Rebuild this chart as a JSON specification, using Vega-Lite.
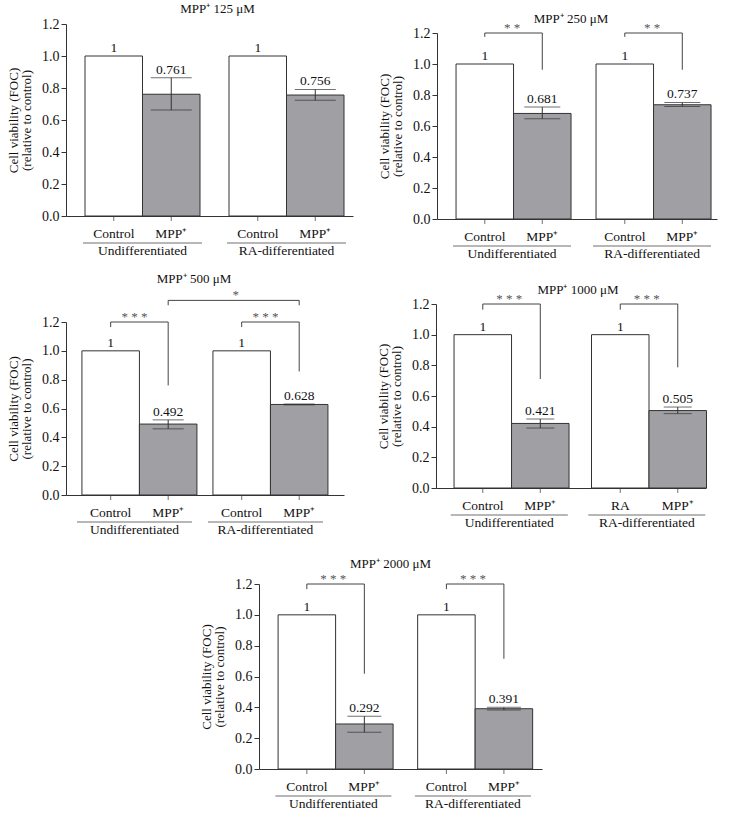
{
"$schema": "https://vega.github.io/schema/vega-lite/v6.json",
"padding": {"left": 7, "top": 3, "right": 5, "bottom": 0},
"background": "white",
"config": {
 "font": "Liberation Serif",
 "view": {"stroke": null},
 "axis": {"labelFontSize": 14, "titleFontSize": 13, "titleFontWeight": "normal", "labelColor": "#111", "titleColor": "#111", "domainColor": "#333", "tickColor": "#333", "grid": false},
 "axisY": {"tickSize": 5, "labelPadding": 2, "titlePadding": 8, "titleLineHeight": 13, "labelOverlap": false},
 "title": {"fontSize": 13, "fontWeight": "normal", "color": "#111", "offset": 4, "frame": "group", "anchor": "middle"},
 "text": {"fontSize": 13, "color": "#111"}
},
"datasets": {
 "bars": [
  {"p":"125","g":"Undifferentiated","t":"Control","v":1,"lo":1,"hi":1,"xl":"Control"},
  {"p":"125","g":"Undifferentiated","t":"MPP","v":0.761,"lo":0.662,"hi":0.864,"xl":"MPP⁺"},
  {"p":"125","g":"RA-differentiated","t":"Control","v":1,"lo":1,"hi":1,"xl":"Control"},
  {"p":"125","g":"RA-differentiated","t":"MPP","v":0.756,"lo":0.724,"hi":0.791,"xl":"MPP⁺"},
  {"p":"250","g":"Undifferentiated","t":"Control","v":1,"lo":1,"hi":1,"xl":"Control"},
  {"p":"250","g":"Undifferentiated","t":"MPP","v":0.681,"lo":0.647,"hi":0.722,"xl":"MPP⁺"},
  {"p":"250","g":"RA-differentiated","t":"Control","v":1,"lo":1,"hi":1,"xl":"Control"},
  {"p":"250","g":"RA-differentiated","t":"MPP","v":0.737,"lo":0.726,"hi":0.752,"xl":"MPP⁺"},
  {"p":"500","g":"Undifferentiated","t":"Control","v":1,"lo":1,"hi":1,"xl":"Control"},
  {"p":"500","g":"Undifferentiated","t":"MPP","v":0.492,"lo":0.459,"hi":0.521,"xl":"MPP⁺"},
  {"p":"500","g":"RA-differentiated","t":"Control","v":1,"lo":1,"hi":1,"xl":"Control"},
  {"p":"500","g":"RA-differentiated","t":"MPP","v":0.628,"lo":0.625,"hi":0.631,"xl":"MPP⁺"},
  {"p":"1000","g":"Undifferentiated","t":"Control","v":1,"lo":1,"hi":1,"xl":"Control"},
  {"p":"1000","g":"Undifferentiated","t":"MPP","v":0.421,"lo":0.391,"hi":0.45,"xl":"MPP⁺"},
  {"p":"1000","g":"RA-differentiated","t":"Control","v":1,"lo":1,"hi":1,"xl":"RA"},
  {"p":"1000","g":"RA-differentiated","t":"MPP","v":0.505,"lo":0.485,"hi":0.528,"xl":"MPP⁺"},
  {"p":"2000","g":"Undifferentiated","t":"Control","v":1,"lo":1,"hi":1,"xl":"Control"},
  {"p":"2000","g":"Undifferentiated","t":"MPP","v":0.292,"lo":0.238,"hi":0.342,"xl":"MPP⁺"},
  {"p":"2000","g":"RA-differentiated","t":"Control","v":1,"lo":1,"hi":1,"xl":"Control"},
  {"p":"2000","g":"RA-differentiated","t":"MPP","v":0.391,"lo":0.382,"hi":0.4,"xl":"MPP⁺"}
 ],
 "br": [
  {"p":"250","b":"U","g":"Undifferentiated","t":"Control","y":1.175,"o":1},
  {"p":"250","b":"U","g":"Undifferentiated","t":"Control","y":1.2,"o":2},
  {"p":"250","b":"U","g":"Undifferentiated","t":"MPP","y":1.2,"o":3},
  {"p":"250","b":"U","g":"Undifferentiated","t":"MPP","y":0.963,"o":4},
  {"p":"250","b":"R","g":"RA-differentiated","t":"Control","y":1.175,"o":1},
  {"p":"250","b":"R","g":"RA-differentiated","t":"Control","y":1.2,"o":2},
  {"p":"250","b":"R","g":"RA-differentiated","t":"MPP","y":1.2,"o":3},
  {"p":"250","b":"R","g":"RA-differentiated","t":"MPP","y":0.963,"o":4},
  {"p":"500","b":"U","g":"Undifferentiated","t":"Control","y":1.165,"o":1},
  {"p":"500","b":"U","g":"Undifferentiated","t":"Control","y":1.2,"o":2},
  {"p":"500","b":"U","g":"Undifferentiated","t":"MPP","y":1.2,"o":3},
  {"p":"500","b":"U","g":"Undifferentiated","t":"MPP","y":0.76,"o":4},
  {"p":"500","b":"R","g":"RA-differentiated","t":"Control","y":1.165,"o":1},
  {"p":"500","b":"R","g":"RA-differentiated","t":"Control","y":1.2,"o":2},
  {"p":"500","b":"R","g":"RA-differentiated","t":"MPP","y":1.2,"o":3},
  {"p":"500","b":"R","g":"RA-differentiated","t":"MPP","y":0.857,"o":4},
  {"p":"500","b":"X","g":"Undifferentiated","t":"MPP","y":1.316,"o":1},
  {"p":"500","b":"X","g":"Undifferentiated","t":"MPP","y":1.35,"o":2},
  {"p":"500","b":"X","g":"RA-differentiated","t":"MPP","y":1.35,"o":3},
  {"p":"500","b":"X","g":"RA-differentiated","t":"MPP","y":1.316,"o":4},
  {"p":"1000","b":"U","g":"Undifferentiated","t":"Control","y":1.163,"o":1},
  {"p":"1000","b":"U","g":"Undifferentiated","t":"Control","y":1.2,"o":2},
  {"p":"1000","b":"U","g":"Undifferentiated","t":"MPP","y":1.2,"o":3},
  {"p":"1000","b":"U","g":"Undifferentiated","t":"MPP","y":0.711,"o":4},
  {"p":"1000","b":"R","g":"RA-differentiated","t":"Control","y":1.163,"o":1},
  {"p":"1000","b":"R","g":"RA-differentiated","t":"Control","y":1.2,"o":2},
  {"p":"1000","b":"R","g":"RA-differentiated","t":"MPP","y":1.2,"o":3},
  {"p":"1000","b":"R","g":"RA-differentiated","t":"MPP","y":0.787,"o":4},
  {"p":"2000","b":"U","g":"Undifferentiated","t":"Control","y":1.167,"o":1},
  {"p":"2000","b":"U","g":"Undifferentiated","t":"Control","y":1.2,"o":2},
  {"p":"2000","b":"U","g":"Undifferentiated","t":"MPP","y":1.2,"o":3},
  {"p":"2000","b":"U","g":"Undifferentiated","t":"MPP","y":0.618,"o":4},
  {"p":"2000","b":"R","g":"RA-differentiated","t":"Control","y":1.167,"o":1},
  {"p":"2000","b":"R","g":"RA-differentiated","t":"Control","y":1.2,"o":2},
  {"p":"2000","b":"R","g":"RA-differentiated","t":"MPP","y":1.2,"o":3},
  {"p":"2000","b":"R","g":"RA-differentiated","t":"MPP","y":0.715,"o":4}
 ],
 "st": [
  {"p":"250","k":"in","g":"Undifferentiated","t":"Control","y":1.2,"s":"* *"},
  {"p":"250","k":"in","g":"RA-differentiated","t":"Control","y":1.2,"s":"* *"},
  {"p":"500","k":"in","g":"Undifferentiated","t":"Control","y":1.2,"s":"* * *"},
  {"p":"500","k":"in","g":"RA-differentiated","t":"Control","y":1.2,"s":"* * *"},
  {"p":"500","k":"x","g":"RA-differentiated","t":"Control","y":1.35,"s":"*"},
  {"p":"1000","k":"in","g":"Undifferentiated","t":"Control","y":1.2,"s":"* * *"},
  {"p":"1000","k":"in","g":"RA-differentiated","t":"Control","y":1.2,"s":"* * *"},
  {"p":"2000","k":"in","g":"Undifferentiated","t":"Control","y":1.2,"s":"* * *"},
  {"p":"2000","k":"in","g":"RA-differentiated","t":"Control","y":1.2,"s":"* * *"}
 ]
},
"vconcat": [
 {"vconcat": [
  {"hconcat": [
   {"width": 287, "height": 192,
    "title": {"text": "MPP⁺ 125 μM", "dx": 8, "offset": 1, "fontWeight": "normal"},
    "encoding": {"x": {"field": "g", "type": "nominal", "scale": {"domain": ["Undifferentiated","RA-differentiated"], "paddingInner": 0.2014, "paddingOuter": 0.0972, "align": 0.679}, "axis": {"labels": false, "ticks": false, "title": null}}},
    "layer": [
     {"data": {"name": "bars"}, "transform": [{"filter": "datum.p=='125'"}], "mark": {"type": "bar", "stroke": "#333", "strokeWidth": 1},
      "encoding": {"xOffset": {"field": "t", "type": "nominal", "scale": {"domain": ["Control","MPP"]}},
       "y": {"field": "v", "type": "quantitative", "scale": {"domain": [0,1.2], "nice": false, "range": [192, 0]}, "axis": {"values": [0,0.2,0.4,0.6,0.8,1,1.2], "format": ".1f", "labelOverlap": false, "labelFontSize": 14, "title": ["Cell viability (FOC)","(relative to control)"]}},
       "fill": {"field": "t", "type": "nominal", "scale": {"domain": ["Control","MPP"], "range": ["#ffffff","#a0a0a4"]}, "legend": null}}},
     {"data": {"name": "bars"}, "transform": [{"filter": "datum.p=='125' && datum.t=='MPP'"}], "mark": {"type": "rule", "color": "#333"},
      "encoding": {"xOffset": {"field": "t", "type": "nominal"}, "y": {"field": "lo", "type": "quantitative", "axis": {"values": [0,0.2,0.4,0.6,0.8,1,1.2], "format": ".1f", "labelOverlap": false, "labelFontSize": 14, "title": ["Cell viability (FOC)","(relative to control)"]}}, "y2": {"field": "hi"}}},
     {"data": {"name": "bars"}, "transform": [{"filter": "datum.p=='125' && datum.t=='MPP'"}], "mark": {"type": "tick", "orient": "horizontal", "size": 41, "thickness": 1, "color": "#333"},
      "encoding": {"xOffset": {"field": "t", "type": "nominal"}, "y": {"field": "lo", "type": "quantitative", "axis": {"values": [0,0.2,0.4,0.6,0.8,1,1.2], "format": ".1f", "labelOverlap": false, "labelFontSize": 14, "title": ["Cell viability (FOC)","(relative to control)"]}}}},
     {"data": {"name": "bars"}, "transform": [{"filter": "datum.p=='125' && datum.t=='MPP'"}], "mark": {"type": "tick", "orient": "horizontal", "size": 41, "thickness": 1, "color": "#333"},
      "encoding": {"xOffset": {"field": "t", "type": "nominal"}, "y": {"field": "hi", "type": "quantitative", "axis": {"values": [0,0.2,0.4,0.6,0.8,1,1.2], "format": ".1f", "labelOverlap": false, "labelFontSize": 14, "title": ["Cell viability (FOC)","(relative to control)"]}}}},
     {"data": {"name": "bars"}, "transform": [{"filter": "datum.p=='125'"}], "mark": {"type": "text", "baseline": "bottom", "dy": -1, "color": "#111", "fontSize": 13.5},
      "encoding": {"xOffset": {"field": "t", "type": "nominal"}, "y": {"field": "hi", "type": "quantitative", "axis": {"values": [0,0.2,0.4,0.6,0.8,1,1.2], "format": ".1f", "labelOverlap": false, "labelFontSize": 14, "title": ["Cell viability (FOC)","(relative to control)"]}}, "text": {"field": "v", "type": "nominal"}}},
     {"data": {"name": "bars"}, "transform": [{"filter": "datum.p=='125'"}], "mark": {"type": "tick", "orient": "vertical", "size": 5, "thickness": 1, "yOffset": 2.5, "color": "#333"},
      "encoding": {"xOffset": {"field": "t", "type": "nominal"}, "y": {"datum": 0, "type": "quantitative", "axis": {"values": [0,0.2,0.4,0.6,0.8,1,1.2], "format": ".1f", "labelOverlap": false, "labelFontSize": 14, "title": ["Cell viability (FOC)","(relative to control)"]}}}},
     {"data": {"name": "bars"}, "transform": [{"filter": "datum.p=='125'"}], "mark": {"type": "text", "baseline": "alphabetic", "dy": 22, "color": "#111", "fontSize": 13.5},
      "encoding": {"xOffset": {"field": "t", "type": "nominal"}, "y": {"datum": 0, "type": "quantitative", "axis": {"values": [0,0.2,0.4,0.6,0.8,1,1.2], "format": ".1f", "labelOverlap": false, "labelFontSize": 14, "title": ["Cell viability (FOC)","(relative to control)"]}}, "text": {"field": "xl", "type": "nominal"}}},
     {"data": {"name": "bars"}, "transform": [{"filter": "datum.p=='125' && datum.t=='Control'"}], "mark": {"type": "tick", "orient": "horizontal", "size": 119, "thickness": 1, "yOffset": 27, "color": "#333"},
      "encoding": {"y": {"datum": 0, "type": "quantitative", "axis": {"values": [0,0.2,0.4,0.6,0.8,1,1.2], "format": ".1f", "labelOverlap": false, "labelFontSize": 14, "title": ["Cell viability (FOC)","(relative to control)"]}}}},
     {"data": {"name": "bars"}, "transform": [{"filter": "datum.p=='125' && datum.t=='Control'"}], "mark": {"type": "text", "baseline": "alphabetic", "dy": 39, "color": "#111", "fontSize": 13.5},
      "encoding": {"y": {"datum": 0, "type": "quantitative", "axis": {"values": [0,0.2,0.4,0.6,0.8,1,1.2], "format": ".1f", "labelOverlap": false, "labelFontSize": 14, "title": ["Cell viability (FOC)","(relative to control)"]}}, "text": {"field": "g", "type": "nominal"}}}
    ]},
   {"width": 280, "height": 195,
    "title": {"text": "MPP⁺ 250 μM", "dx": -6, "offset": -4, "fontWeight": "normal"},
    "encoding": {"x": {"field": "g", "type": "nominal", "scale": {"domain": ["Undifferentiated","RA-differentiated"], "paddingInner": 0.2, "paddingOuter": 0.1, "align": 0.68}, "axis": {"labels": false, "ticks": false, "title": null}}},
    "layer": [
     {"data": {"name": "bars"}, "transform": [{"filter": "datum.p=='250'"}], "mark": {"type": "bar", "stroke": "#333", "strokeWidth": 1},
      "encoding": {"xOffset": {"field": "t", "type": "nominal", "scale": {"domain": ["Control","MPP"]}},
       "y": {"field": "v", "type": "quantitative", "scale": {"domain": [0,1.2], "nice": false, "range": [195, 9]}, "axis": {"values": [0,0.2,0.4,0.6,0.8,1,1.2], "format": ".1f", "labelOverlap": false, "labelFontSize": 14, "title": ["Cell viability (FOC)","(relative to control)"]}},
       "fill": {"field": "t", "type": "nominal", "scale": {"domain": ["Control","MPP"], "range": ["#ffffff","#a0a0a4"]}, "legend": null}}},
     {"data": {"name": "bars"}, "transform": [{"filter": "datum.p=='250' && datum.t=='MPP'"}], "mark": {"type": "rule", "color": "#333"},
      "encoding": {"xOffset": {"field": "t", "type": "nominal"}, "y": {"field": "lo", "type": "quantitative", "axis": {"values": [0,0.2,0.4,0.6,0.8,1,1.2], "format": ".1f", "labelOverlap": false, "labelFontSize": 14, "title": ["Cell viability (FOC)","(relative to control)"]}}, "y2": {"field": "hi"}}},
     {"data": {"name": "bars"}, "transform": [{"filter": "datum.p=='250' && datum.t=='MPP'"}], "mark": {"type": "tick", "orient": "horizontal", "size": 36, "thickness": 1, "color": "#333"},
      "encoding": {"xOffset": {"field": "t", "type": "nominal"}, "y": {"field": "lo", "type": "quantitative", "axis": {"values": [0,0.2,0.4,0.6,0.8,1,1.2], "format": ".1f", "labelOverlap": false, "labelFontSize": 14, "title": ["Cell viability (FOC)","(relative to control)"]}}}},
     {"data": {"name": "bars"}, "transform": [{"filter": "datum.p=='250' && datum.t=='MPP'"}], "mark": {"type": "tick", "orient": "horizontal", "size": 36, "thickness": 1, "color": "#333"},
      "encoding": {"xOffset": {"field": "t", "type": "nominal"}, "y": {"field": "hi", "type": "quantitative", "axis": {"values": [0,0.2,0.4,0.6,0.8,1,1.2], "format": ".1f", "labelOverlap": false, "labelFontSize": 14, "title": ["Cell viability (FOC)","(relative to control)"]}}}},
     {"data": {"name": "bars"}, "transform": [{"filter": "datum.p=='250'"}], "mark": {"type": "text", "baseline": "bottom", "dy": -1, "color": "#111", "fontSize": 13.5},
      "encoding": {"xOffset": {"field": "t", "type": "nominal"}, "y": {"field": "hi", "type": "quantitative", "axis": {"values": [0,0.2,0.4,0.6,0.8,1,1.2], "format": ".1f", "labelOverlap": false, "labelFontSize": 14, "title": ["Cell viability (FOC)","(relative to control)"]}}, "text": {"field": "v", "type": "nominal"}}},
     {"data": {"name": "bars"}, "transform": [{"filter": "datum.p=='250'"}], "mark": {"type": "tick", "orient": "vertical", "size": 5, "thickness": 1, "yOffset": 2.5, "color": "#333"},
      "encoding": {"xOffset": {"field": "t", "type": "nominal"}, "y": {"datum": 0, "type": "quantitative", "axis": {"values": [0,0.2,0.4,0.6,0.8,1,1.2], "format": ".1f", "labelOverlap": false, "labelFontSize": 14, "title": ["Cell viability (FOC)","(relative to control)"]}}}},
     {"data": {"name": "bars"}, "transform": [{"filter": "datum.p=='250'"}], "mark": {"type": "text", "baseline": "alphabetic", "dy": 22, "color": "#111", "fontSize": 13.5},
      "encoding": {"xOffset": {"field": "t", "type": "nominal"}, "y": {"datum": 0, "type": "quantitative", "axis": {"values": [0,0.2,0.4,0.6,0.8,1,1.2], "format": ".1f", "labelOverlap": false, "labelFontSize": 14, "title": ["Cell viability (FOC)","(relative to control)"]}}, "text": {"field": "xl", "type": "nominal"}}},
     {"data": {"name": "bars"}, "transform": [{"filter": "datum.p=='250' && datum.t=='Control'"}], "mark": {"type": "tick", "orient": "horizontal", "size": 118, "thickness": 1, "yOffset": 27, "color": "#333"},
      "encoding": {"y": {"datum": 0, "type": "quantitative", "axis": {"values": [0,0.2,0.4,0.6,0.8,1,1.2], "format": ".1f", "labelOverlap": false, "labelFontSize": 14, "title": ["Cell viability (FOC)","(relative to control)"]}}}},
     {"data": {"name": "bars"}, "transform": [{"filter": "datum.p=='250' && datum.t=='Control'"}], "mark": {"type": "text", "baseline": "alphabetic", "dy": 39, "color": "#111", "fontSize": 13.5},
      "encoding": {"y": {"datum": 0, "type": "quantitative", "axis": {"values": [0,0.2,0.4,0.6,0.8,1,1.2], "format": ".1f", "labelOverlap": false, "labelFontSize": 14, "title": ["Cell viability (FOC)","(relative to control)"]}}, "text": {"field": "g", "type": "nominal"}}},
     {"data": {"name": "br"}, "transform": [{"filter": "datum.p=='250'"}], "mark": {"type": "line", "color": "#444", "strokeWidth": 1},
      "encoding": {"xOffset": {"field": "t", "type": "nominal"}, "y": {"field": "y", "type": "quantitative", "axis": {"values": [0,0.2,0.4,0.6,0.8,1,1.2], "format": ".1f", "labelOverlap": false, "labelFontSize": 14, "title": ["Cell viability (FOC)","(relative to control)"]}}, "detail": {"field": "b", "type": "nominal"}, "order": {"field": "o", "type": "quantitative"}}},
     {"data": {"name": "st"}, "transform": [{"filter": "datum.p=='250' && datum.k=='in'"}], "mark": {"type": "text", "baseline": "alphabetic", "dy": -1, "color": "#555"},
      "encoding": {"y": {"field": "y", "type": "quantitative", "axis": {"values": [0,0.2,0.4,0.6,0.8,1,1.2], "format": ".1f", "labelOverlap": false, "labelFontSize": 14, "title": ["Cell viability (FOC)","(relative to control)"]}}, "text": {"field": "s", "type": "nominal"}}}
    ]}
  ], "spacing": 25},
  {"hconcat": [
   {"width": 278, "height": 191,
    "title": {"text": "MPP⁺ 500 μM", "dx": -11, "offset": 3, "fontWeight": "normal"},
    "encoding": {"x": {"field": "g", "type": "nominal", "scale": {"domain": ["Undifferentiated","RA-differentiated"], "paddingInner": 0.198, "paddingOuter": 0.16, "align": 0.38}, "axis": {"labels": false, "ticks": false, "title": null}}},
    "layer": [
     {"data": {"name": "bars"}, "transform": [{"filter": "datum.p=='500'"}], "mark": {"type": "bar", "stroke": "#333", "strokeWidth": 1},
      "encoding": {"xOffset": {"field": "t", "type": "nominal", "scale": {"domain": ["Control","MPP"]}},
       "y": {"field": "v", "type": "quantitative", "scale": {"domain": [0,1.2], "nice": false, "range": [191, 18]}, "axis": {"values": [0,0.2,0.4,0.6,0.8,1,1.2], "format": ".1f", "labelOverlap": false, "labelFontSize": 14, "title": ["Cell viability (FOC)","(relative to control)"]}},
       "fill": {"field": "t", "type": "nominal", "scale": {"domain": ["Control","MPP"], "range": ["#ffffff","#a0a0a4"]}, "legend": null}}},
     {"data": {"name": "bars"}, "transform": [{"filter": "datum.p=='500' && datum.t=='MPP'"}], "mark": {"type": "rule", "color": "#333"},
      "encoding": {"xOffset": {"field": "t", "type": "nominal"}, "y": {"field": "lo", "type": "quantitative", "axis": {"values": [0,0.2,0.4,0.6,0.8,1,1.2], "format": ".1f", "labelOverlap": false, "labelFontSize": 14, "title": ["Cell viability (FOC)","(relative to control)"]}}, "y2": {"field": "hi"}}},
     {"data": {"name": "bars"}, "transform": [{"filter": "datum.p=='500' && datum.t=='MPP'"}], "mark": {"type": "tick", "orient": "horizontal", "size": 31, "thickness": 1, "color": "#333"},
      "encoding": {"xOffset": {"field": "t", "type": "nominal"}, "y": {"field": "lo", "type": "quantitative", "axis": {"values": [0,0.2,0.4,0.6,0.8,1,1.2], "format": ".1f", "labelOverlap": false, "labelFontSize": 14, "title": ["Cell viability (FOC)","(relative to control)"]}}}},
     {"data": {"name": "bars"}, "transform": [{"filter": "datum.p=='500' && datum.t=='MPP'"}], "mark": {"type": "tick", "orient": "horizontal", "size": 31, "thickness": 1, "color": "#333"},
      "encoding": {"xOffset": {"field": "t", "type": "nominal"}, "y": {"field": "hi", "type": "quantitative", "axis": {"values": [0,0.2,0.4,0.6,0.8,1,1.2], "format": ".1f", "labelOverlap": false, "labelFontSize": 14, "title": ["Cell viability (FOC)","(relative to control)"]}}}},
     {"data": {"name": "bars"}, "transform": [{"filter": "datum.p=='500'"}], "mark": {"type": "text", "baseline": "bottom", "dy": -1, "color": "#111", "fontSize": 13.5},
      "encoding": {"xOffset": {"field": "t", "type": "nominal"}, "y": {"field": "hi", "type": "quantitative", "axis": {"values": [0,0.2,0.4,0.6,0.8,1,1.2], "format": ".1f", "labelOverlap": false, "labelFontSize": 14, "title": ["Cell viability (FOC)","(relative to control)"]}}, "text": {"field": "v", "type": "nominal"}}},
     {"data": {"name": "bars"}, "transform": [{"filter": "datum.p=='500'"}], "mark": {"type": "tick", "orient": "vertical", "size": 5, "thickness": 1, "yOffset": 2.5, "color": "#333"},
      "encoding": {"xOffset": {"field": "t", "type": "nominal"}, "y": {"datum": 0, "type": "quantitative", "axis": {"values": [0,0.2,0.4,0.6,0.8,1,1.2], "format": ".1f", "labelOverlap": false, "labelFontSize": 14, "title": ["Cell viability (FOC)","(relative to control)"]}}}},
     {"data": {"name": "bars"}, "transform": [{"filter": "datum.p=='500'"}], "mark": {"type": "text", "baseline": "alphabetic", "dy": 22, "color": "#111", "fontSize": 13.5},
      "encoding": {"xOffset": {"field": "t", "type": "nominal"}, "y": {"datum": 0, "type": "quantitative", "axis": {"values": [0,0.2,0.4,0.6,0.8,1,1.2], "format": ".1f", "labelOverlap": false, "labelFontSize": 14, "title": ["Cell viability (FOC)","(relative to control)"]}}, "text": {"field": "xl", "type": "nominal"}}},
     {"data": {"name": "bars"}, "transform": [{"filter": "datum.p=='500' && datum.t=='Control'"}], "mark": {"type": "tick", "orient": "horizontal", "size": 115, "thickness": 1, "yOffset": 27, "color": "#333"},
      "encoding": {"y": {"datum": 0, "type": "quantitative", "axis": {"values": [0,0.2,0.4,0.6,0.8,1,1.2], "format": ".1f", "labelOverlap": false, "labelFontSize": 14, "title": ["Cell viability (FOC)","(relative to control)"]}}}},
     {"data": {"name": "bars"}, "transform": [{"filter": "datum.p=='500' && datum.t=='Control'"}], "mark": {"type": "text", "baseline": "alphabetic", "dy": 39, "color": "#111", "fontSize": 13.5},
      "encoding": {"y": {"datum": 0, "type": "quantitative", "axis": {"values": [0,0.2,0.4,0.6,0.8,1,1.2], "format": ".1f", "labelOverlap": false, "labelFontSize": 14, "title": ["Cell viability (FOC)","(relative to control)"]}}, "text": {"field": "g", "type": "nominal"}}},
     {"data": {"name": "br"}, "transform": [{"filter": "datum.p=='500'"}], "mark": {"type": "line", "color": "#444", "strokeWidth": 1},
      "encoding": {"xOffset": {"field": "t", "type": "nominal"}, "y": {"field": "y", "type": "quantitative", "axis": {"values": [0,0.2,0.4,0.6,0.8,1,1.2], "format": ".1f", "labelOverlap": false, "labelFontSize": 14, "title": ["Cell viability (FOC)","(relative to control)"]}}, "detail": {"field": "b", "type": "nominal"}, "order": {"field": "o", "type": "quantitative"}}},
     {"data": {"name": "st"}, "transform": [{"filter": "datum.p=='500' && datum.k=='in'"}], "mark": {"type": "text", "baseline": "alphabetic", "dy": -1, "color": "#555"},
      "encoding": {"y": {"field": "y", "type": "quantitative", "axis": {"values": [0,0.2,0.4,0.6,0.8,1,1.2], "format": ".1f", "labelOverlap": false, "labelFontSize": 14, "title": ["Cell viability (FOC)","(relative to control)"]}}, "text": {"field": "s", "type": "nominal"}}},
     {"data": {"name": "st"}, "transform": [{"filter": "datum.p=='500' && datum.k=='x'"}], "mark": {"type": "text", "baseline": "alphabetic", "dy": -1, "dx": -6, "color": "#555"},
      "encoding": {"xOffset": {"field": "t", "type": "nominal"}, "y": {"field": "y", "type": "quantitative", "axis": {"values": [0,0.2,0.4,0.6,0.8,1,1.2], "format": ".1f", "labelOverlap": false, "labelFontSize": 14, "title": ["Cell viability (FOC)","(relative to control)"]}}, "text": {"field": "s", "type": "nominal"}}}
    ]},
   {"width": 270, "height": 184,
    "title": {"text": "MPP⁺ 1000 μM", "dx": 7, "offset": -4, "fontWeight": "normal"},
    "encoding": {"x": {"field": "g", "type": "nominal", "scale": {"domain": ["Undifferentiated","RA-differentiated"], "paddingInner": 0.196, "paddingOuter": 0.08, "align": 0.82}, "axis": {"labels": false, "ticks": false, "title": null}}},
    "layer": [
     {"data": {"name": "bars"}, "transform": [{"filter": "datum.p=='1000'"}], "mark": {"type": "bar", "stroke": "#333", "strokeWidth": 1},
      "encoding": {"xOffset": {"field": "t", "type": "nominal", "scale": {"domain": ["Control","MPP"]}},
       "y": {"field": "v", "type": "quantitative", "scale": {"domain": [0,1.2], "nice": false, "range": [184, 0]}, "axis": {"values": [0,0.2,0.4,0.6,0.8,1,1.2], "format": ".1f", "labelOverlap": false, "labelFontSize": 14, "title": ["Cell viability (FOC)","(relative to control)"]}},
       "fill": {"field": "t", "type": "nominal", "scale": {"domain": ["Control","MPP"], "range": ["#ffffff","#a0a0a4"]}, "legend": null}}},
     {"data": {"name": "bars"}, "transform": [{"filter": "datum.p=='1000' && datum.t=='MPP'"}], "mark": {"type": "rule", "color": "#333"},
      "encoding": {"xOffset": {"field": "t", "type": "nominal"}, "y": {"field": "lo", "type": "quantitative", "axis": {"values": [0,0.2,0.4,0.6,0.8,1,1.2], "format": ".1f", "labelOverlap": false, "labelFontSize": 14, "title": ["Cell viability (FOC)","(relative to control)"]}}, "y2": {"field": "hi"}}},
     {"data": {"name": "bars"}, "transform": [{"filter": "datum.p=='1000' && datum.t=='MPP'"}], "mark": {"type": "tick", "orient": "horizontal", "size": 28, "thickness": 1, "color": "#333"},
      "encoding": {"xOffset": {"field": "t", "type": "nominal"}, "y": {"field": "lo", "type": "quantitative", "axis": {"values": [0,0.2,0.4,0.6,0.8,1,1.2], "format": ".1f", "labelOverlap": false, "labelFontSize": 14, "title": ["Cell viability (FOC)","(relative to control)"]}}}},
     {"data": {"name": "bars"}, "transform": [{"filter": "datum.p=='1000' && datum.t=='MPP'"}], "mark": {"type": "tick", "orient": "horizontal", "size": 28, "thickness": 1, "color": "#333"},
      "encoding": {"xOffset": {"field": "t", "type": "nominal"}, "y": {"field": "hi", "type": "quantitative", "axis": {"values": [0,0.2,0.4,0.6,0.8,1,1.2], "format": ".1f", "labelOverlap": false, "labelFontSize": 14, "title": ["Cell viability (FOC)","(relative to control)"]}}}},
     {"data": {"name": "bars"}, "transform": [{"filter": "datum.p=='1000'"}], "mark": {"type": "text", "baseline": "bottom", "dy": -1, "color": "#111", "fontSize": 13.5},
      "encoding": {"xOffset": {"field": "t", "type": "nominal"}, "y": {"field": "hi", "type": "quantitative", "axis": {"values": [0,0.2,0.4,0.6,0.8,1,1.2], "format": ".1f", "labelOverlap": false, "labelFontSize": 14, "title": ["Cell viability (FOC)","(relative to control)"]}}, "text": {"field": "v", "type": "nominal"}}},
     {"data": {"name": "bars"}, "transform": [{"filter": "datum.p=='1000'"}], "mark": {"type": "tick", "orient": "vertical", "size": 5, "thickness": 1, "yOffset": 2.5, "color": "#333"},
      "encoding": {"xOffset": {"field": "t", "type": "nominal"}, "y": {"datum": 0, "type": "quantitative", "axis": {"values": [0,0.2,0.4,0.6,0.8,1,1.2], "format": ".1f", "labelOverlap": false, "labelFontSize": 14, "title": ["Cell viability (FOC)","(relative to control)"]}}}},
     {"data": {"name": "bars"}, "transform": [{"filter": "datum.p=='1000'"}], "mark": {"type": "text", "baseline": "alphabetic", "dy": 22, "color": "#111", "fontSize": 13.5},
      "encoding": {"xOffset": {"field": "t", "type": "nominal"}, "y": {"datum": 0, "type": "quantitative", "axis": {"values": [0,0.2,0.4,0.6,0.8,1,1.2], "format": ".1f", "labelOverlap": false, "labelFontSize": 14, "title": ["Cell viability (FOC)","(relative to control)"]}}, "text": {"field": "xl", "type": "nominal"}}},
     {"data": {"name": "bars"}, "transform": [{"filter": "datum.p=='1000' && datum.t=='Control'"}], "mark": {"type": "tick", "orient": "horizontal", "size": 117, "thickness": 1, "yOffset": 27, "color": "#333"},
      "encoding": {"y": {"datum": 0, "type": "quantitative", "axis": {"values": [0,0.2,0.4,0.6,0.8,1,1.2], "format": ".1f", "labelOverlap": false, "labelFontSize": 14, "title": ["Cell viability (FOC)","(relative to control)"]}}}},
     {"data": {"name": "bars"}, "transform": [{"filter": "datum.p=='1000' && datum.t=='Control'"}], "mark": {"type": "text", "baseline": "alphabetic", "dy": 39, "color": "#111", "fontSize": 13.5},
      "encoding": {"y": {"datum": 0, "type": "quantitative", "axis": {"values": [0,0.2,0.4,0.6,0.8,1,1.2], "format": ".1f", "labelOverlap": false, "labelFontSize": 14, "title": ["Cell viability (FOC)","(relative to control)"]}}, "text": {"field": "g", "type": "nominal"}}},
     {"data": {"name": "br"}, "transform": [{"filter": "datum.p=='1000'"}], "mark": {"type": "line", "color": "#444", "strokeWidth": 1},
      "encoding": {"xOffset": {"field": "t", "type": "nominal"}, "y": {"field": "y", "type": "quantitative", "axis": {"values": [0,0.2,0.4,0.6,0.8,1,1.2], "format": ".1f", "labelOverlap": false, "labelFontSize": 14, "title": ["Cell viability (FOC)","(relative to control)"]}}, "detail": {"field": "b", "type": "nominal"}, "order": {"field": "o", "type": "quantitative"}}},
     {"data": {"name": "st"}, "transform": [{"filter": "datum.p=='1000' && datum.k=='in'"}], "mark": {"type": "text", "baseline": "alphabetic", "dy": -1, "color": "#555"},
      "encoding": {"y": {"field": "y", "type": "quantitative", "axis": {"values": [0,0.2,0.4,0.6,0.8,1,1.2], "format": ".1f", "labelOverlap": false, "labelFontSize": 14, "title": ["Cell viability (FOC)","(relative to control)"]}}, "text": {"field": "s", "type": "nominal"}}}
    ]}
  ], "spacing": 33}
 ], "spacing": 12},
 {"hconcat": [
  {"width": 134, "height": 185, "data": {"values": []}, "mark": {"type": "point", "opacity": 0}},
  {"width": 283, "height": 185,
  "title": {"text": "MPP⁺ 2000 μM", "dx": -10, "offset": 2, "fontWeight": "normal"},
  "encoding": {"x": {"field": "g", "type": "nominal", "scale": {"domain": ["Undifferentiated","RA-differentiated"], "paddingInner": 0.208, "paddingOuter": 0.118, "align": 0.58}, "axis": {"labels": false, "ticks": false, "title": null}}},
  "layer": [
   {"data": {"name": "bars"}, "transform": [{"filter": "datum.p=='2000'"}], "mark": {"type": "bar", "stroke": "#333", "strokeWidth": 1},
    "encoding": {"xOffset": {"field": "t", "type": "nominal", "scale": {"domain": ["Control","MPP"]}},
     "y": {"field": "v", "type": "quantitative", "scale": {"domain": [0,1.2], "nice": false, "range": [185, 0]}, "axis": {"values": [0,0.2,0.4,0.6,0.8,1,1.2], "format": ".1f", "labelOverlap": false, "labelFontSize": 14, "title": ["Cell viability (FOC)","(relative to control)"]}},
     "fill": {"field": "t", "type": "nominal", "scale": {"domain": ["Control","MPP"], "range": ["#ffffff","#a0a0a4"]}, "legend": null}}},
   {"data": {"name": "bars"}, "transform": [{"filter": "datum.p=='2000' && datum.t=='MPP'"}], "mark": {"type": "rule", "color": "#333"},
    "encoding": {"xOffset": {"field": "t", "type": "nominal"}, "y": {"field": "lo", "type": "quantitative", "axis": {"values": [0,0.2,0.4,0.6,0.8,1,1.2], "format": ".1f", "labelOverlap": false, "labelFontSize": 14, "title": ["Cell viability (FOC)","(relative to control)"]}}, "y2": {"field": "hi"}}},
   {"data": {"name": "bars"}, "transform": [{"filter": "datum.p=='2000' && datum.t=='MPP'"}], "mark": {"type": "tick", "orient": "horizontal", "size": 34, "thickness": 1, "color": "#333"},
    "encoding": {"xOffset": {"field": "t", "type": "nominal"}, "y": {"field": "lo", "type": "quantitative", "axis": {"values": [0,0.2,0.4,0.6,0.8,1,1.2], "format": ".1f", "labelOverlap": false, "labelFontSize": 14, "title": ["Cell viability (FOC)","(relative to control)"]}}}},
   {"data": {"name": "bars"}, "transform": [{"filter": "datum.p=='2000' && datum.t=='MPP'"}], "mark": {"type": "tick", "orient": "horizontal", "size": 34, "thickness": 1, "color": "#333"},
    "encoding": {"xOffset": {"field": "t", "type": "nominal"}, "y": {"field": "hi", "type": "quantitative", "axis": {"values": [0,0.2,0.4,0.6,0.8,1,1.2], "format": ".1f", "labelOverlap": false, "labelFontSize": 14, "title": ["Cell viability (FOC)","(relative to control)"]}}}},
   {"data": {"name": "bars"}, "transform": [{"filter": "datum.p=='2000'"}], "mark": {"type": "text", "baseline": "bottom", "dy": -1, "color": "#111", "fontSize": 13.5},
    "encoding": {"xOffset": {"field": "t", "type": "nominal"}, "y": {"field": "hi", "type": "quantitative", "axis": {"values": [0,0.2,0.4,0.6,0.8,1,1.2], "format": ".1f", "labelOverlap": false, "labelFontSize": 14, "title": ["Cell viability (FOC)","(relative to control)"]}}, "text": {"field": "v", "type": "nominal"}}},
   {"data": {"name": "bars"}, "transform": [{"filter": "datum.p=='2000'"}], "mark": {"type": "tick", "orient": "vertical", "size": 5, "thickness": 1, "yOffset": 2.5, "color": "#333"},
    "encoding": {"xOffset": {"field": "t", "type": "nominal"}, "y": {"datum": 0, "type": "quantitative", "axis": {"values": [0,0.2,0.4,0.6,0.8,1,1.2], "format": ".1f", "labelOverlap": false, "labelFontSize": 14, "title": ["Cell viability (FOC)","(relative to control)"]}}}},
   {"data": {"name": "bars"}, "transform": [{"filter": "datum.p=='2000'"}], "mark": {"type": "text", "baseline": "alphabetic", "dy": 22, "color": "#111", "fontSize": 13.5},
    "encoding": {"xOffset": {"field": "t", "type": "nominal"}, "y": {"datum": 0, "type": "quantitative", "axis": {"values": [0,0.2,0.4,0.6,0.8,1,1.2], "format": ".1f", "labelOverlap": false, "labelFontSize": 14, "title": ["Cell viability (FOC)","(relative to control)"]}}, "text": {"field": "xl", "type": "nominal"}}},
   {"data": {"name": "bars"}, "transform": [{"filter": "datum.p=='2000' && datum.t=='Control'"}], "mark": {"type": "tick", "orient": "horizontal", "size": 116, "thickness": 1, "yOffset": 27, "color": "#333"},
    "encoding": {"y": {"datum": 0, "type": "quantitative", "axis": {"values": [0,0.2,0.4,0.6,0.8,1,1.2], "format": ".1f", "labelOverlap": false, "labelFontSize": 14, "title": ["Cell viability (FOC)","(relative to control)"]}}}},
   {"data": {"name": "bars"}, "transform": [{"filter": "datum.p=='2000' && datum.t=='Control'"}], "mark": {"type": "text", "baseline": "alphabetic", "dy": 39, "color": "#111", "fontSize": 13.5},
    "encoding": {"y": {"datum": 0, "type": "quantitative", "axis": {"values": [0,0.2,0.4,0.6,0.8,1,1.2], "format": ".1f", "labelOverlap": false, "labelFontSize": 14, "title": ["Cell viability (FOC)","(relative to control)"]}}, "text": {"field": "g", "type": "nominal"}}},
   {"data": {"name": "br"}, "transform": [{"filter": "datum.p=='2000'"}], "mark": {"type": "line", "color": "#444", "strokeWidth": 1},
    "encoding": {"xOffset": {"field": "t", "type": "nominal"}, "y": {"field": "y", "type": "quantitative", "axis": {"values": [0,0.2,0.4,0.6,0.8,1,1.2], "format": ".1f", "labelOverlap": false, "labelFontSize": 14, "title": ["Cell viability (FOC)","(relative to control)"]}}, "detail": {"field": "b", "type": "nominal"}, "order": {"field": "o", "type": "quantitative"}}},
   {"data": {"name": "st"}, "transform": [{"filter": "datum.p=='2000' && datum.k=='in'"}], "mark": {"type": "text", "baseline": "alphabetic", "dy": -1, "color": "#555"},
    "encoding": {"y": {"field": "y", "type": "quantitative", "axis": {"values": [0,0.2,0.4,0.6,0.8,1,1.2], "format": ".1f", "labelOverlap": false, "labelFontSize": 14, "title": ["Cell viability (FOC)","(relative to control)"]}}, "text": {"field": "s", "type": "nominal"}}}
  ]}
 ], "spacing": 0}
],
"spacing": 21
}
